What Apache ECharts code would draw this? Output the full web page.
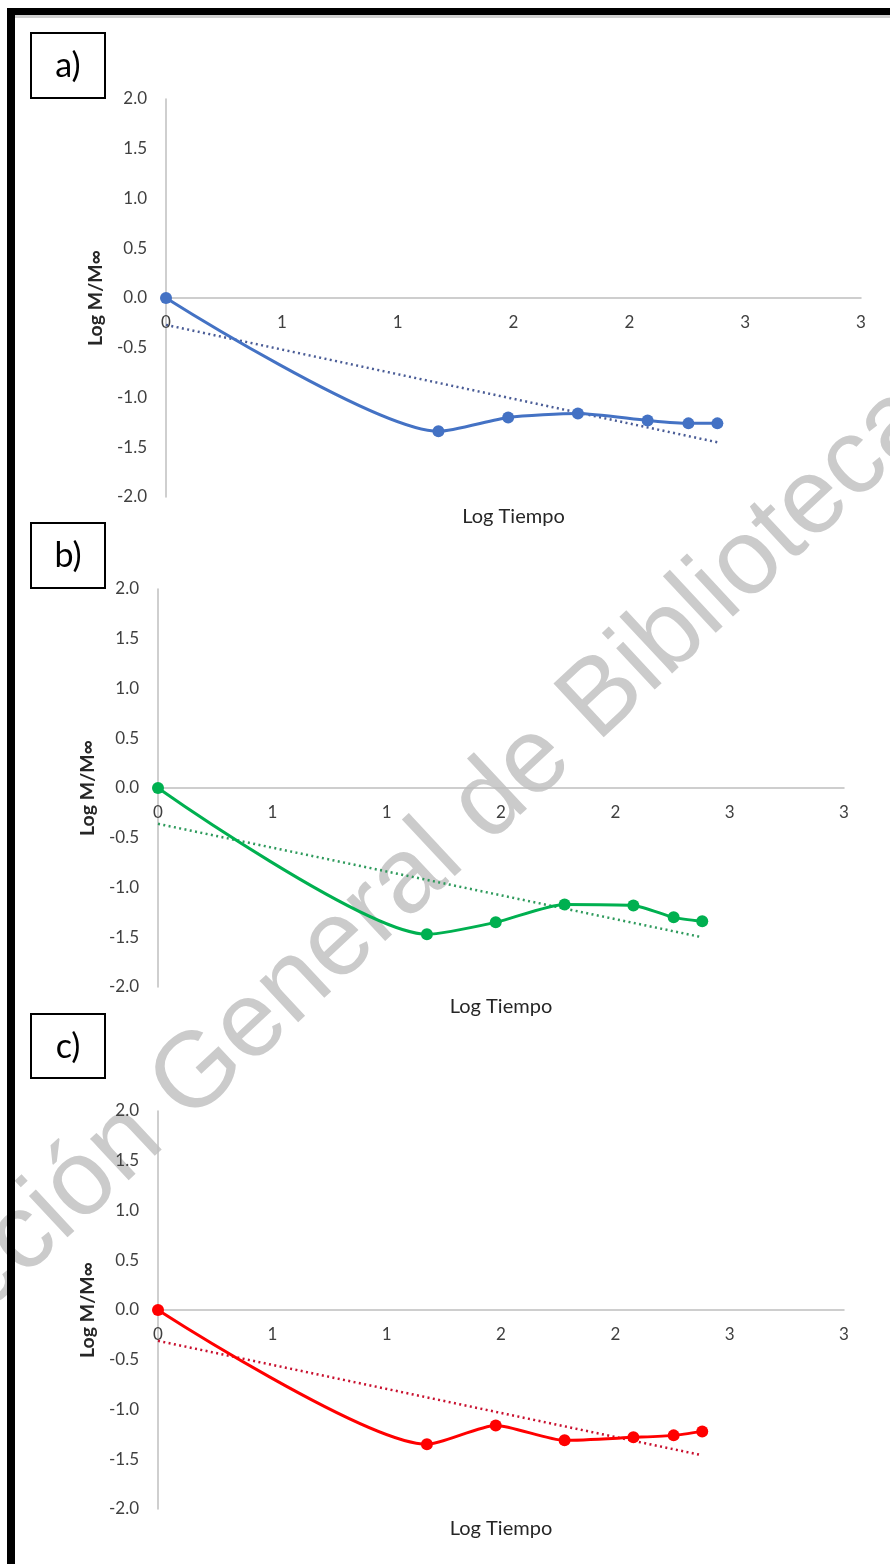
<!DOCTYPE html>
<html>
<head>
<meta charset="utf-8">
<script src="https://cdn.jsdelivr.net/npm/echarts@6/dist/echarts.min.js"></script>
<style>
html,body{margin:0;padding:0;background:#fff;}
#chart{width:890px;height:1564px;}
</style>
</head>
<body>
<div id="chart"></div>
<script>
// ---- data ----
var panelLabels = ['a)', 'b)', 'c)'];
var logTiempo = [0, 1.176, 1.477, 1.778, 2.079, 2.255, 2.380];
var logMA = [0, -1.34, -1.20, -1.16, -1.23, -1.26, -1.26];
var logMB = [0, -1.47, -1.35, -1.17, -1.18, -1.30, -1.34];
var logMC = [0, -1.35, -1.16, -1.31, -1.28, -1.26, -1.22];
var trendX = [0, 2.380];
var trendA = [-0.27, -1.45];
var trendB = [-0.36, -1.50];
var trendC = [-0.31, -1.46];
var xTickValues = [0, 0.5, 1, 1.5, 2, 2.5, 3];
var xTickLabels = ['0', '1', '1', '2', '2', '3', '3'];
var yTickValues = [-2, -1.5, -1, -0.5, 0, 0.5, 1, 1.5, 2];
var yTickLabels = ['-2.0', '-1.5', '-1.0', '-0.5', '0.0', '0.5', '1.0', '1.5', '2.0'];
var xAxisName = 'Log Tiempo';
var yAxisName = 'Log M/M\u221E';
var watermarkText = 'Direcci\u00F3n General de Bibliotecas';

// ---- styling / layout ----
var FONT = 'Lato, "Open Sans", sans-serif';
var lineColors = ['#4472C4', '#00B050', '#FF0000'];
var trendColors = ['#4A5C96', '#2E9A5C', '#C8102E'];
var grids = [
  {left: 166, right: 29, top: 99, height: 398},
  {left: 158, right: 46, top: 589, height: 398},
  {left: 158, right: 46, top: 1111, height: 398}
];
var boxes = [
  {x: 31, y: 33, w: 74, h: 65},
  {x: 31, y: 523, w: 74, h: 65},
  {x: 31, y: 1014, w: 74, h: 64}
];
var seriesY = [logMA, logMB, logMC];
var trendY = [trendA, trendB, trendC];

function pairs(xs, ys) {
  return xs.map(function (x, i) { return [x, ys[i]]; });
}
function labelFor(values, labels) {
  return function (v) {
    for (var i = 0; i < values.length; i++) {
      if (Math.abs(values[i] - v) < 1e-6) return labels[i];
    }
    return '';
  };
}

var xAxes = [], yAxes = [], series = [], graphics = [];
var axisLineStyle = {color: '#BFBFBF', width: 1.5};

grids.forEach(function (g, i) {
  xAxes.push({
    type: 'value', gridIndex: i, min: 0, max: 3, interval: 0.5,
    position: 'bottom',
    offset: -g.height / 2,   // axis crosses the vertical axis at value 0 (middle of -2..2)
    axisLine: {show: true, onZero: false, lineStyle: axisLineStyle},
    axisTick: {show: false},
    splitLine: {show: false},
    axisLabel: {formatter: labelFor(xTickValues, xTickLabels), color: '#404040',
      fontFamily: FONT, fontSize: 17, margin: 16},
    name: xAxisName, nameLocation: 'middle', nameGap: 209,
    nameTextStyle: {color: '#262626', fontFamily: FONT, fontSize: 20}
  });
  yAxes.push({
    type: 'value', gridIndex: i, min: -2, max: 2, interval: 0.5,
    axisLine: {show: true, onZero: false, lineStyle: axisLineStyle},
    axisTick: {show: false},
    splitLine: {show: false},
    axisLabel: {formatter: labelFor(yTickValues, yTickLabels), color: '#404040',
      fontFamily: FONT, fontSize: 17, margin: 19},
    name: yAxisName, nameLocation: 'middle', nameGap: 59, nameRotate: 90,
    nameTextStyle: {color: '#262626', fontFamily: FONT, fontSize: 19.5, fontWeight: 'bold'}
  });
  series.push({
    type: 'line', xAxisIndex: i, yAxisIndex: i,
    data: pairs(trendX, trendY[i]),
    symbol: 'none', silent: true, z: 3,
    lineStyle: {color: trendColors[i], width: 2.5, type: [2, 3.4], cap: 'butt'}
  });
  series.push({
    type: 'line', xAxisIndex: i, yAxisIndex: i,
    data: pairs(logTiempo, seriesY[i]),
    smooth: 0.22, smoothConstraint: false,
    symbol: 'circle', symbolSize: 12, z: 4,
    itemStyle: {color: lineColors[i]},
    lineStyle: {color: lineColors[i], width: 3}
  });
  var b = boxes[i];
  graphics.push({
    type: 'rect', shape: {x: b.x, y: b.y, width: b.w, height: b.h},
    style: {fill: '#fff', stroke: '#000', lineWidth: 2}, z: 10
  });
  graphics.push({
    type: 'text', x: b.x + b.w / 2, y: b.y + b.h / 2 + 1, z: 11,
    style: {text: panelLabels[i], fill: '#000', font: '34px ' + FONT,
      textAlign: 'center', textVerticalAlign: 'middle'}
  });
});

// watermark
graphics.unshift({
  type: 'text', x: 388, y: 898, rotation: 43 * Math.PI / 180, z: -10, silent: true,
  style: {text: watermarkText, fill: '#CBCBCB',
    font: '107px "Liberation Sans", Arial, sans-serif',
    textAlign: 'center', textVerticalAlign: 'middle'}
});
// page border
graphics.push({type: 'rect', shape: {x: 7, y: 8, width: 883, height: 7}, style: {fill: '#000'}, z: 20});
graphics.push({type: 'rect', shape: {x: 7, y: 8, width: 8, height: 1556}, style: {fill: '#000'}, z: 20});
graphics.push({type: 'rect', shape: {x: 15, y: 15, width: 875, height: 3}, style: {fill: '#D0D0D0'}, z: 19});

var chart = echarts.init(document.getElementById('chart'), null, {renderer: 'canvas'});
chart.setOption({
  backgroundColor: '#fff',
  animation: false,
  grid: grids.map(function (g) {
    return Object.assign({containLabel: false, outerBoundsMode: 'none'}, g);
  }),
  xAxis: xAxes,
  yAxis: yAxes,
  series: series,
  graphic: {elements: graphics}
});
</script>
</body>
</html>
